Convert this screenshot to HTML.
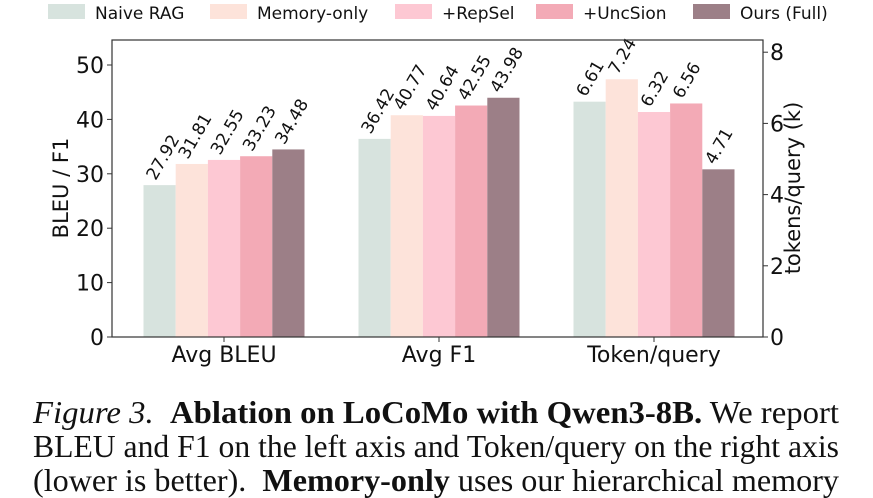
<!DOCTYPE html>
<html><head><meta charset="utf-8"><style>
body{margin:0;background:#fff;width:873px;height:498px;overflow:hidden;position:relative}
.cap{position:absolute;left:33px;font-family:"Liberation Serif",serif;font-size:32px;line-height:34px;color:#111;white-space:nowrap;transform-origin:0 0}
</style></head><body>
<svg id="chart" width="873" height="380" style="position:absolute;left:0;top:0" font-family="DejaVu Sans, Liberation Sans, sans-serif"></svg>
<div class="cap" style="top:395px"><i>Figure 3.</i>&nbsp; <b>Ablation on LoCoMo with Qwen3-8B.</b> We report</div>
<div class="cap" style="top:429px">BLEU and F1 on the left axis and Token/query on the right axis</div>
<div class="cap" style="top:463px">(lower is better).&nbsp; <b>Memory-only</b> uses our hierarchical memory</div>
<script>
document.querySelectorAll('.cap').forEach(c=>{const w=c.getBoundingClientRect().width;c.style.transform='scaleX('+(806/w)+')';});
</script>
<script>
const categories=["Avg BLEU","Avg F1","Token/query"];
const series=["Naive RAG","Memory-only","+RepSel","+UncSion","Ours (Full)"];
const bleu=[27.92,31.81,32.55,33.23,34.48];
const f1=[36.42,40.77,40.64,42.55,43.98];
const tokens=[6.61,7.24,6.32,6.56,4.71];
const leftTicks=[0,10,20,30,40,50];
const rightTicks=[0,2,4,6,8];
const colors=["#d7e3de","#fde3da","#fdc8d3","#f3aab6","#9c7f87"];
const NS="http://www.w3.org/2000/svg";
const svg=document.getElementById('chart');
const X0=112,X1=763,Y0=337,YT=40;
const yL=v=>Y0-v*5.44, yR=v=>Y0-v*35.6;
const cx=i=>224+215*i, BW=32.2;
function mk(t,a,txt){const e=document.createElementNS(NS,t);for(const k in a)e.setAttribute(k,a[k]);if(txt!==undefined)e.textContent=txt;svg.appendChild(e);return e;}
const groups=[{vals:bleu,y:yL},{vals:f1,y:yL},{vals:tokens,y:yR}];
groups.forEach((g,gi)=>{g.vals.forEach((v,si)=>{
 const x=cx(gi)+(si-2.5)*BW;const yt=g.y(v);
 const r=mk('rect',{x:x,y:yt,width:BW,height:Y0-yt,fill:colors[si]});
 
 
 const tx=x+BW/2-4, ty=yt-4;
 const t=mk('text',{x:tx,y:ty,'font-size':17,fill:'#111',transform:`rotate(-60 ${tx} ${ty})`},v.toFixed(2));
 
 
});});
const frame=mk('rect',{x:X0,y:YT,width:X1-X0,height:Y0-YT,fill:'none',stroke:'#333','stroke-width':1.2});


leftTicks.forEach(v=>{const y=yL(v);mk('line',{x1:X0-5,x2:X0,y1:y,y2:y,stroke:'#333'});
 const t=mk('text',{x:X0-8,y:y+8,'font-size':22,'text-anchor':'end',fill:'#111'},v);
 
 });
rightTicks.forEach(v=>{const y=yR(v);mk('line',{x1:X1,x2:X1+5,y1:y,y2:y,stroke:'#333'});
 const t=mk('text',{x:X1+7,y:y+8,'font-size':22,fill:'#111'},v);
 
 });
categories.forEach((c,i)=>{mk('line',{x1:cx(i),x2:cx(i),y1:Y0,y2:Y0+5,stroke:'#333'});
 const t=mk('text',{x:cx(i),y:Y0+25,'font-size':22,'text-anchor':'middle',fill:'#111'},c);
 
 });
const yl=mk('text',{x:0,y:0,'font-size':21,'text-anchor':'middle',fill:'#111',transform:'translate(68 188) rotate(-90)'},'BLEU / F1');


const yr=mk('text',{x:0,y:0,'font-size':21,'text-anchor':'middle',fill:'#111',transform:'translate(800 188) rotate(-90)'},'tokens/query (k)');


const lx=[48,210,395,536,693];
series.forEach((s,i)=>{
 const r=mk('rect',{x:lx[i],y:4,width:37,height:15,fill:colors[i]});
 
 
 const t=mk('text',{x:lx[i]+47,y:19,'font-size':17,fill:'#111'},s);
 
 
});
</script>
</body></html>
